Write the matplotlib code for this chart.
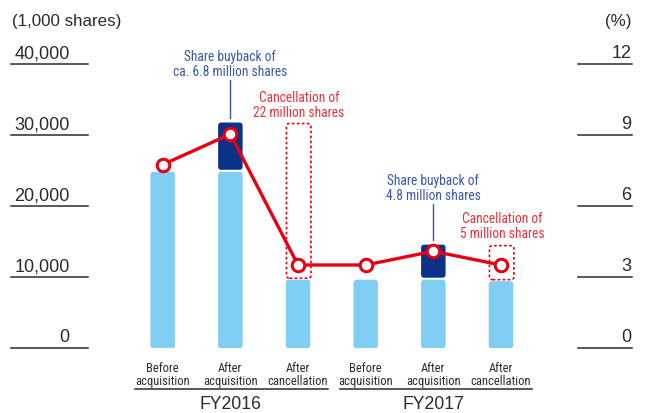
import matplotlib
matplotlib.use('Agg')
import matplotlib.pyplot as plt
from matplotlib import font_manager as fm
from matplotlib.patches import FancyBboxPatch
import matplotlib.transforms as mt

# ---------------- data ----------------
categories = ["Before\nacquisition", "After\nacquisition", "After\ncancellation",
              "Before\nacquisition", "After\nacquisition", "After\ncancellation"]
groups = ["FY2016", "FY2017"]
shares_held = [25000, 31800, 9800, 9800, 14600, 9600]      # 1,000 shares
buyback = [0, 6800, 0, 0, 4800, 0]                         # acquired (navy part)
cancelled = [0, 0, 22000, 0, 0, 5000]                      # cancelled (dashed box)
ratio_pct = [7.76, 9.05, 3.52, 3.52, 4.10, 3.52]           # %
left_ticks = [0, 10000, 20000, 30000, 40000]
left_labels = ["0", "10,000", "20,000", "30,000", "40,000"]
right_ticks = [0, 3, 6, 9, 12]
right_labels = ["0", "3", "6", "9", "12"]
notes = [
    (1, ["Share buyback of", "ca. 6.8 million shares"], "blue"),
    (2, ["Cancellation of", "22 million shares"], "red"),
    (4, ["Share buyback of", "4.8 million shares"], "blue"),
    (5, ["Cancellation of", "5 million shares"], "red"),
]

# ---------------- style ----------------
W, H = 662, 414
LIGHT = "#80CEF3"
NAVY = "#0C3189"
RED = "#E60012"
BLUE_TXT = "#3A58A8"
RED_TXT = "#E8323C"
TXT = "#2B2B2B"

names = {f.name for f in fm.fontManager.ttflist}
if "Liberation Sans Narrow" in names:
    NARROW = dict(family="Liberation Sans Narrow"); nsc = 1.0
elif "Roboto Condensed" in names:
    NARROW = dict(family="Roboto Condensed"); nsc = 0.92
else:
    NARROW = dict(family="DejaVu Sans", stretch="condensed"); nsc = 0.83
MAIN = "Liberation Sans" if "Liberation Sans" in names else "DejaVu Sans"

fig = plt.figure(figsize=(W / 100, H / 100), dpi=100)
y0px, y40px = 349.3, 65.3
ax = fig.add_axes([12 / W, 1 - y0px / H, (633 - 12) / W, (y0px - y40px) / H])
x_first, x_step = 162.7, 67.66
def dx(px):
    return (px - x_first) / x_step
ax.set_xlim(dx(12), dx(633))
ax.set_ylim(0, 40000)
ax.axis("off")
ax2 = ax.twinx()
ax2.set_ylim(0, 12)
ax2.axis("off")

px_per_x = x_step
px_per_y = (y0px - y40px) / 40000.0
aspect = px_per_x / px_per_y
bw = 24.5 / x_step
rr = 3.2 / x_step
gap = 1.0 / px_per_y

def rbar(x, y_lo, y_hi, **kw):
    p = FancyBboxPatch((x - bw / 2, y_lo), bw, y_hi - y_lo,
                       boxstyle=f"round,pad=0,rounding_size={rr}",
                       mutation_aspect=aspect, **kw)
    ax.add_patch(p)

xs = list(range(len(categories)))
for i in xs:
    base = shares_held[i] - buyback[i]
    rbar(i, 0, base - gap, facecolor=LIGHT, edgecolor="none", zorder=2)
    if buyback[i]:
        rbar(i, base + gap, shares_held[i], facecolor=NAVY, edgecolor="none", zorder=2)
    if cancelled[i]:
        p = FancyBboxPatch((i - bw / 2 + 0.01, shares_held[i] + gap * 0.5),
                           bw, cancelled[i] - gap * 1.5,
                           boxstyle=f"round,pad=0,rounding_size={rr}",
                           mutation_aspect=aspect, facecolor="none", edgecolor=RED,
                           linewidth=1.2, linestyle=(0, (1.6, 1.4)), zorder=3)
        ax.add_patch(p)

ax2.plot(xs, ratio_pct, color=RED, lw=2.4, marker="o", ms=9, mfc="white",
         mec=RED, mew=2.2, zorder=5, solid_joinstyle="miter")

# ---------------- axes ticks ----------------
off = mt.offset_copy(ax.transData, fig=fig, x=0, y=7.2, units="dots")
off2 = mt.offset_copy(ax2.transData, fig=fig, x=0, y=7.2, units="dots")
for v, lab in zip(left_ticks, left_labels):
    ax.plot([dx(11), dx(87.5)], [v, v], color=TXT, lw=1.1, clip_on=False, zorder=1)
    ax.text(dx(69.5), v, lab, transform=off, ha="right", va="baseline",
            fontsize=13, family=MAIN, color=TXT, clip_on=False)
for v, lab in zip(right_ticks, right_labels):
    ax2.plot([dx(578.3), dx(632)], [v, v], color=TXT, lw=1.1, clip_on=False, zorder=1)
    ax2.text(dx(631.5), v, lab, transform=off2, ha="right", va="baseline",
             fontsize=13, family=MAIN, color=TXT, clip_on=False)

def F(x, y):
    return (x / W, 1 - y / H)

fig.text(*F(12, 26), "(1,000 shares)", ha="left", va="baseline", fontsize=12.2,
         family=MAIN, color=TXT)
fig.text(*F(631.5, 26), "(%)", ha="right", va="baseline", fontsize=12.2,
         family=MAIN, color=TXT)

# ---------------- category labels ----------------
bt = mt.blended_transform_factory(ax.transData, fig.transFigure)
for i, lab in enumerate(categories):
    l1, l2 = lab.split("\n")
    ax.text(i, 1 - 371.7 / H, l1, transform=bt, ha="center", va="baseline",
            fontsize=9.8 * nsc, color=TXT, **NARROW)
    ax.text(i, 1 - 385.2 / H, l2, transform=bt, ha="center", va="baseline",
            fontsize=9.8 * nsc, color=TXT, **NARROW)
for g, lab in enumerate(groups):
    a, b = 3 * g, 3 * g + 2
    ax.plot([dx(135 + 205 * g), dx(328 + 204 * g)], [1 - 390 / H, 1 - 390 / H],
            transform=bt, color=TXT, lw=1.1, clip_on=False)
    ax.text((a + b) / 2, 1 - 409.0 / H, lab, transform=bt, ha="center", va="baseline",
            fontsize=12.7, family=MAIN, color=TXT)

# ---------------- annotations ----------------
note_base = {1: (61, 76), 2: (101.7, 116.7), 4: (185, 200), 5: (223.3, 238.3)}
for i, lines, kind in notes:
    col = BLUE_TXT if kind == "blue" else RED_TXT
    b1, b2 = note_base[i]
    for txt, yb in zip(lines, (b1, b2)):
        ax.text(i + (0.015 if kind == "red" else 0), 1 - yb / H, txt, transform=bt,
                ha="center", va="baseline", fontsize=10.6 * nsc, color=col, **NARROW)
    if kind == "blue":
        ytop = 1 - (b2 + 4.5) / H
        ybot_data = shares_held[i] + 600
        ybot = fig.transFigure.inverted().transform(ax.transData.transform((0, ybot_data)))[1]
        ax.plot([i, i], [ytop, ybot], transform=bt, color=BLUE_TXT, lw=1.0, clip_on=False)

fig.savefig("out.png", dpi=100)
